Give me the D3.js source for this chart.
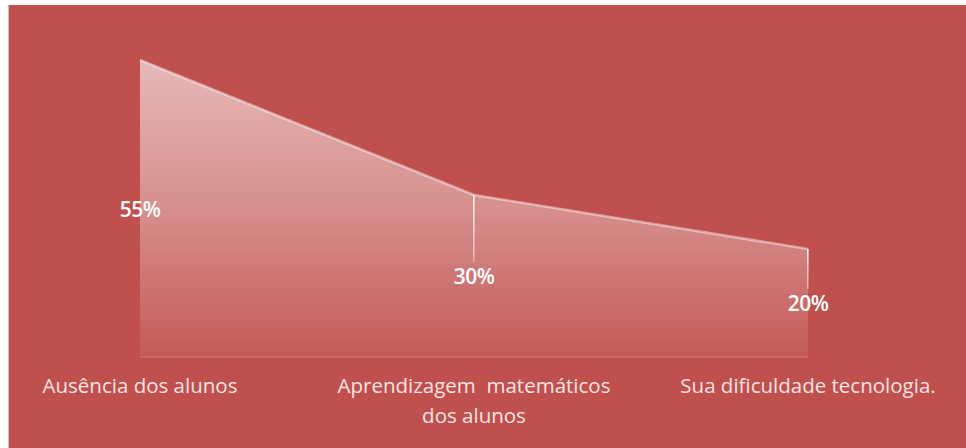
<!DOCTYPE html>
<html>
<head>
<meta charset="utf-8">
<script src="https://cdn.jsdelivr.net/npm/d3@7"></script>
<style>
  html, body { margin: 0; padding: 0; background: #fff; }
  svg { display: block; }
</style>
</head>
<body>
<div id="chart"></div>
<script>
const categories = ["Ausência dos alunos", "Aprendizagem  matemáticos\ndos alunos", "Sua dificuldade tecnologia."];
const values = [55, 30, 20];
const valueLabels = ["55%", "30%", "20%"];

const width = 966;
const height = 448;

const svg = d3.select("#chart")
    .append("svg")
    .attr("width", width)
    .attr("height", height);

// plot background with thin light frame on the left/top
svg.append("rect")
    .attr("x", 8).attr("y", 5)
    .attr("width", width - 8).attr("height", height - 5)
    .attr("fill", "#C0504D");
svg.append("line")
    .attr("x1", 8.5).attr("x2", 8.5)
    .attr("y1", 5).attr("y2", height)
    .attr("stroke", "#e8b9b8").attr("stroke-width", 1);

const x = d3.scalePoint()
    .domain(categories)
    .range([140, 808]);

const y = d3.scaleLinear()
    .domain([0, 55])
    .range([357, 60]);

const data = categories.map((c, i) => ({ cat: c, value: values[i], label: valueLabels[i] }));

const defs = svg.append("defs");
const grad = defs.append("linearGradient")
    .attr("id", "areaFill")
    .attr("gradientUnits", "userSpaceOnUse")
    .attr("x1", 0).attr("x2", 0)
    .attr("y1", y(55)).attr("y2", y(0));
grad.append("stop").attr("offset", "0%").attr("stop-color", "#fff").attr("stop-opacity", 0.6);
grad.append("stop").attr("offset", "50%").attr("stop-color", "#fff").attr("stop-opacity", 0.36);
grad.append("stop").attr("offset", "100%").attr("stop-color", "#fff").attr("stop-opacity", 0.06);

const dropGrad = defs.append("linearGradient")
    .attr("id", "dropFade")
    .attr("x1", 0).attr("x2", 0).attr("y1", 0).attr("y2", 1);
dropGrad.append("stop").attr("offset", "0%").attr("stop-color", "#fff").attr("stop-opacity", 0.95);
dropGrad.append("stop").attr("offset", "100%").attr("stop-color", "#fff").attr("stop-opacity", 0.4);

const area = d3.area()
    .x(d => x(d.cat))
    .y0(y(0))
    .y1(d => y(d.value));

svg.append("path")
    .datum(data)
    .attr("d", area)
    .attr("fill", "url(#areaFill)");

// soft highlight along top edge
const line = d3.line()
    .x(d => x(d.cat))
    .y(d => y(d.value));

svg.append("path")
    .datum(data)
    .attr("d", line)
    .attr("fill", "none")
    .attr("stroke", "#fff")
    .attr("stroke-opacity", 0.45)
    .attr("stroke-width", 2.5);

// left edge of area
svg.append("line")
    .attr("x1", x(categories[0])).attr("x2", x(categories[0]))
    .attr("y1", y(values[0])).attr("y2", y(0))
    .attr("stroke", "url(#dropFade)")
    .attr("stroke-opacity", 0.5)
    .attr("stroke-width", 1.5);

// baseline
svg.append("line")
    .attr("x1", x(categories[0])).attr("x2", x(categories[2]))
    .attr("y1", y(0)).attr("y2", y(0))
    .attr("stroke", "#fff")
    .attr("stroke-opacity", 0.15)
    .attr("stroke-width", 1.5);

// drop lines from points to labels
svg.append("g")
    .selectAll("rect")
    .data(data.slice(1))
    .join("rect")
    .attr("x", d => x(d.cat) - 1)
    .attr("y", d => y(d.value))
    .attr("width", 1.6)
    .attr("height", d => (y(0) - y(d.value)) / 2 - 14)
    .attr("fill", "url(#dropFade)");

// value labels at mid height
svg.append("g")
    .selectAll("text")
    .data(data)
    .join("text")
    .attr("x", d => x(d.cat))
    .attr("y", d => (y(d.value) + y(0)) / 2 + 8)
    .attr("text-anchor", "middle")
    .attr("font-family", "'Open Sans', sans-serif")
    .attr("font-weight", 600)
    .attr("font-size", 21)
    .attr("letter-spacing", -0.5)
    .attr("fill", "#fff")
    .text(d => d.label);

// category labels
const catText = svg.append("g")
    .selectAll("text")
    .data(categories)
    .join("text")
    .attr("x", d => x(d))
    .attr("y", 393)
    .attr("text-anchor", "middle")
    .attr("font-family", "'Open Sans', sans-serif")
    .attr("font-size", 20.5)
    .attr("fill", "#f6e4e3")
    .attr("xml:space", "preserve");

catText.selectAll("tspan")
    .data(d => d.split("\n"))
    .join("tspan")
    .attr("x", function () { return d3.select(this.parentNode).attr("x"); })
    .attr("dy", (d, i) => i === 0 ? 0 : 30)
    .text(d => d);
</script>
</body>
</html>
